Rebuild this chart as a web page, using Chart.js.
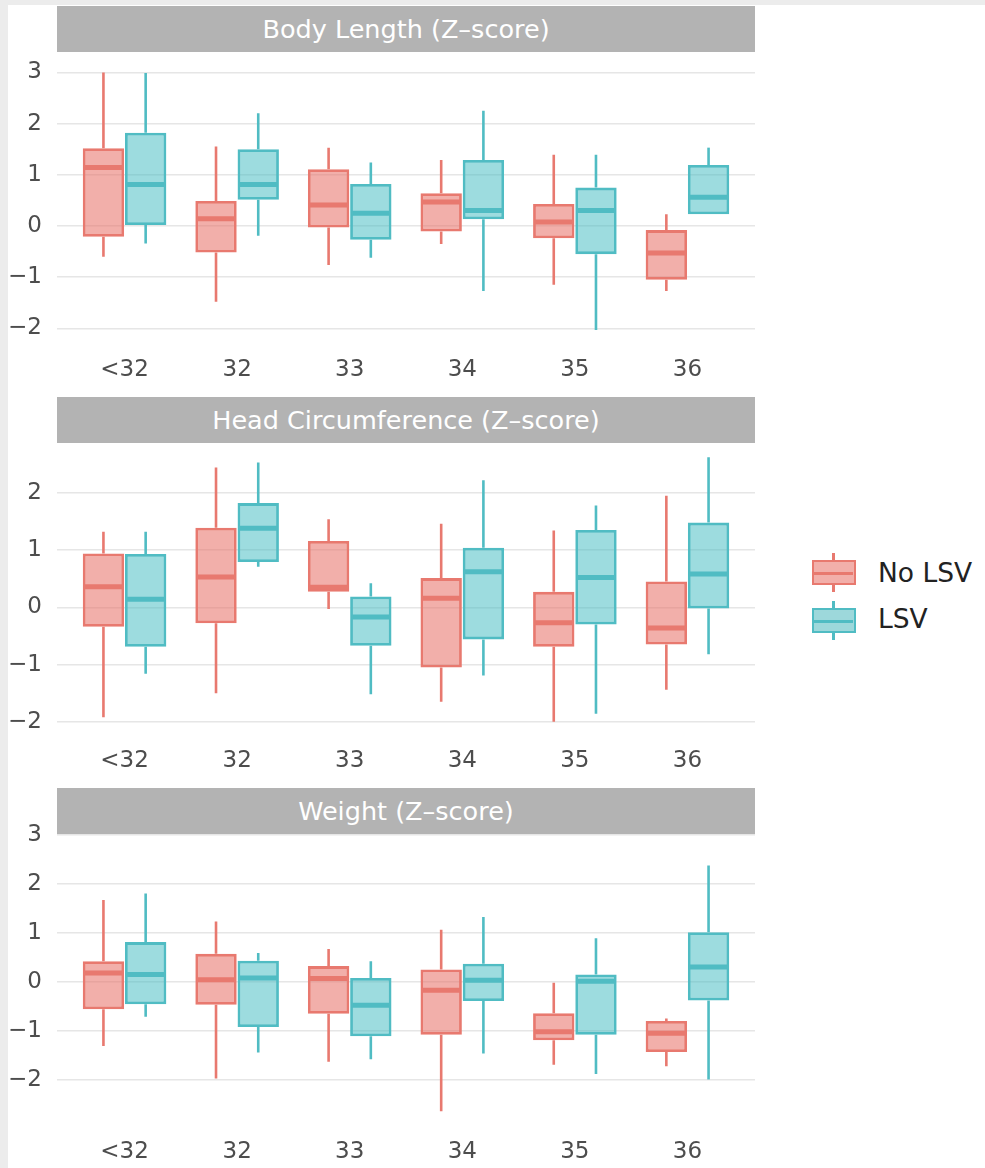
<!DOCTYPE html>
<html>
<head>
<meta charset="utf-8">
<script src="https://cdn.jsdelivr.net/npm/chart.js@4.4.1/dist/chart.umd.min.js"></script>
<style>
  body { margin: 0; background: #ececec; font-family: "DejaVu Sans", sans-serif; }
  #page { position: absolute; left: 8px; top: 5px; width: 977px; height: 1163px; background: #fff; }
  .strip { position: absolute; left: 57px; width: 698px; height: 46px; background: #b3b3b3;
           color: #fff; font-size: 25.5px; line-height: 46px; text-align: center; }
  canvas { position: absolute; left: 0; }
  .key { position: absolute; left: 812px; width: 44px; height: 39px; }
  .key .whisk { position: absolute; left: 20px; top: 0; width: 3px; height: 39px; }
  .key .box { position: absolute; left: 0; top: 7px; width: 44px; height: 25px; box-sizing: border-box; border: 2.5px solid; }
  .key .mid { position: absolute; left: 0; top: 9.5px; width: 39px; height: 3px; }
  .keytext { position: absolute; left: 878px; font-size: 26.5px; color: #222; line-height: 30px; }
</style>
</head>
<body>
<div id="page"></div>
<div class="strip" style="top:6px">Body Length (Z–score)</div>
<div class="strip" style="top:397px">Head Circumference (Z–score)</div>
<div class="strip" style="top:788px">Weight (Z–score)</div>
<canvas id="c1" width="760" height="352" style="top:40px"></canvas>
<canvas id="c2" width="760" height="352" style="top:431px"></canvas>
<canvas id="c3" width="760" height="352" style="top:822px"></canvas>

<div class="key" style="top:553px">
  <div class="whisk" style="background:#e8796f"></div>
  <div class="box" style="background:#f2afaa;border-color:#e8796f"><div class="mid" style="background:#e8796f"></div></div>
</div>
<div class="keytext" style="top:558px">No LSV</div>
<div class="key" style="top:601px">
  <div class="whisk" style="background:#50bcc3"></div>
  <div class="box" style="background:#9dd8db;border-color:#50bcc3"><div class="mid" style="background:#50bcc3"></div></div>
</div>
<div class="keytext" style="top:604px">LSV</div>

<script>
const categories = ['<32', '32', '33', '34', '35', '36'];
const groups = ['No LSV', 'LSV'];

// Body Length (Z-score)
const blNoMin = [-0.60, -1.48, -0.76, -0.35, -1.15, -1.27];
const blNoQ1  = [-0.21, -0.52, -0.03, -0.11, -0.24, -1.05];
const blNoMed = [1.14, 0.14, 0.41, 0.47, 0.08, -0.53];
const blNoQ3  = [1.52, 0.49, 1.11, 0.64, 0.43, -0.08];
const blNoMax = [3.00, 1.55, 1.53, 1.29, 1.39, 0.23];
const blYesMin = [-0.34, -0.19, -0.62, -1.27, -2.03, 0.23];
const blYesQ1  = [0.02, 0.51, -0.27, 0.13, -0.55, 0.23];
const blYesMed = [0.81, 0.81, 0.25, 0.30, 0.30, 0.56];
const blYesQ3  = [1.82, 1.50, 0.82, 1.29, 0.75, 1.19];
const blYesMax = [2.99, 2.20, 1.24, 2.25, 1.39, 1.53];

// Head Circumference (Z-score)
const hcNoMin = [-1.92, -1.50, -0.03, -1.65, -2.00, -1.44];
const hcNoQ1  = [-0.34, -0.28, 0.27, -1.05, -0.69, -0.65];
const hcNoMed = [0.36, 0.53, 0.35, 0.16, -0.27, -0.36];
const hcNoQ3  = [0.94, 1.39, 1.16, 0.51, 0.27, 0.45];
const hcNoMax = [1.32, 2.44, 1.54, 1.46, 1.34, 1.95];
const hcYesMin = [-1.16, 0.71, -1.52, -1.19, -1.86, -0.82];
const hcYesQ1  = [-0.69, 0.79, -0.67, -0.56, -0.30, -0.02];
const hcYesMed = [0.14, 1.38, -0.17, 0.62, 0.52, 0.58];
const hcYesQ3  = [0.93, 1.82, 0.19, 1.04, 1.35, 1.48];
const hcYesMax = [1.32, 2.53, 0.42, 2.22, 1.78, 2.62];

// Weight (Z-score)
const wtNoMin = [-1.31, -1.97, -1.63, -2.64, -1.69, -1.72];
const wtNoQ1  = [-0.56, -0.47, -0.65, -1.08, -1.19, -1.43];
const wtNoMed = [0.18, 0.04, 0.07, -0.17, -1.02, -1.05];
const wtNoQ3  = [0.42, 0.57, 0.32, 0.25, -0.64, -0.80];
const wtNoMax = [1.67, 1.23, 0.67, 1.06, -0.02, -0.75];
const wtYesMin = [-0.71, -1.44, -1.58, -1.46, -1.88, -1.99];
const wtYesQ1  = [-0.46, -0.92, -1.11, -0.39, -1.08, -0.38];
const wtYesMed = [0.15, 0.08, -0.48, 0.03, 0.01, 0.30];
const wtYesQ3  = [0.81, 0.43, 0.08, 0.37, 0.15, 1.01];
const wtYesMax = [1.80, 0.59, 0.42, 1.32, 0.89, 2.37];

const fills = ['rgba(232,110,100,0.55)', 'rgba(60,185,192,0.5)'];
const lines = ['#e8796f', '#50bcc3'];

// whiskers + median lines, positioned from the bar elements and the y scale
const boxExtras = {
  id: 'boxExtras',
  afterDatasetsDraw(chart) {
    const ctx = chart.ctx;
    const y = chart.scales.y;
    chart.data.datasets.forEach((ds, d) => {
      const meta = chart.getDatasetMeta(d);
      const s = ds.stats;
      ctx.save();
      ctx.strokeStyle = ds.borderColor;
      ctx.lineCap = 'butt';
      meta.data.forEach((bar, i) => {
        ctx.lineWidth = 2.6;
        ctx.beginPath();
        ctx.moveTo(bar.x, y.getPixelForValue(s.max[i]));
        ctx.lineTo(bar.x, y.getPixelForValue(s.q3[i]));
        ctx.moveTo(bar.x, y.getPixelForValue(s.q1[i]));
        ctx.lineTo(bar.x, y.getPixelForValue(s.min[i]));
        ctx.stroke();
        const ym = y.getPixelForValue(s.med[i]);
        ctx.lineWidth = 5;
        ctx.beginPath();
        ctx.moveTo(bar.x - bar.width / 2 + 1, ym);
        ctx.lineTo(bar.x + bar.width / 2 - 1, ym);
        ctx.stroke();
      });
      ctx.restore();
    });
  }
};

function makeDataset(g, min, q1, med, q3, max) {
  return {
    label: groups[g],
    data: categories.map((c, i) => ({ x: i + 1, y: [q1[i], q3[i]] })),
    backgroundColor: fills[g],
    borderColor: lines[g],
    borderWidth: 2.8,
    borderSkipped: false,
    categoryPercentage: 0.75,
    barPercentage: 0.98,
    stats: { min, q1, med, q3, max }
  };
}

function drawPanel(id, datasets, yMin, yMax) {
  new Chart(document.getElementById(id), {
    type: 'bar',
    data: { datasets },
    plugins: [boxExtras],
    options: {
      responsive: false,
      animation: false,
      layout: { padding: { top: 12, right: 5, left: 0, bottom: 0 } },
      plugins: { legend: { display: false }, tooltip: { enabled: false } },
      scales: {
        x: {
          type: 'linear', min: 0.4, max: 6.6, offset: false,
          grid: { display: false }, border: { display: false },
          afterBuildTicks: s => { s.ticks = categories.map((c, i) => ({ value: i + 1 })); },
          afterFit: s => { s.height = 48; s.paddingLeft = 0; s.paddingRight = 0; },
          ticks: {
            autoSkip: false, maxRotation: 0, padding: 4, color: '#4d4d4d',
            font: { family: 'DejaVu Sans', size: 23 },
            callback: v => categories[Math.round(v) - 1]
          }
        },
        y: {
          min: yMin, max: yMax,
          grid: { color: '#e6e6e6', lineWidth: 1.5, drawTicks: false },
          border: { display: false },
          afterFit: s => { s.width = 57; s.paddingTop = 0; s.paddingBottom = 0; },
          ticks: {
            stepSize: 1, includeBounds: false, padding: 15, color: '#4d4d4d',
            font: { family: 'DejaVu Sans', size: 23 },
            callback: v => (v < 0 ? '\u2212' + Math.abs(v) : String(v))
          }
        }
      }
    }
  });
}

drawPanel('c1', [
  makeDataset(0, blNoMin, blNoQ1, blNoMed, blNoQ3, blNoMax),
  makeDataset(1, blYesMin, blYesQ1, blYesMed, blYesQ3, blYesMax)
], -2.305, 3.398);

drawPanel('c2', [
  makeDataset(0, hcNoMin, hcNoQ1, hcNoMed, hcNoQ3, hcNoMax),
  makeDataset(1, hcYesMin, hcYesQ1, hcYesMed, hcYesQ3, hcYesMax)
], -2.23, 2.87);

drawPanel('c3', [
  makeDataset(0, wtNoMin, wtNoQ1, wtNoMed, wtNoQ3, wtNoMax),
  makeDataset(1, wtYesMin, wtYesQ1, wtYesMed, wtYesQ3, wtYesMax)
], -2.94, 3.014);
</script>
</body>
</html>
